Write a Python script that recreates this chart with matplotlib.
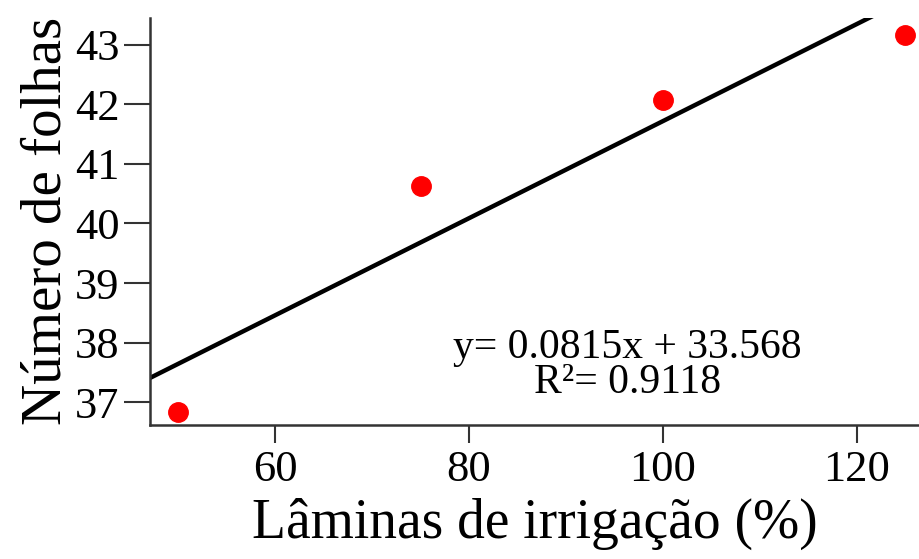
import numpy as np
import matplotlib
matplotlib.use("Agg")
import matplotlib.pyplot as plt

# irrigation levels (%) and number of leaves
laminas = [50, 75, 100, 125]
folhas = [36.83, 40.63, 42.08, 43.17]

# fitted regression
slope = 0.0815
intercept = 33.568
r2 = 0.9118

yticks = [37, 38, 39, 40, 41, 42, 43]
xticks = [60, 80, 100, 120]

plt.rcParams['font.family'] = ['Liberation Serif', 'DejaVu Serif']

fig = plt.figure(figsize=(9.2, 5.59), dpi=100)
ax = fig.add_axes([0.163, 0.24, 0.837, 0.728])

xmin, xmax = 47.1, 126.5
ax.set_xlim(xmin, xmax)
ax.set_ylim(36.62, 43.45)

xfit = np.array([xmin, xmax])
ax.plot(xfit, slope * xfit + intercept, color='black', lw=3.2, zorder=2)
ax.plot(laminas, folhas, 'o', color='#ff0000', ms=14, mec='#ff0000', zorder=3)

# equation and R² of the fit
ax.text(96.3, 37.92, f"y= {slope}x + {intercept}", ha='center', va='center', fontsize=30)
ax.text(96.3, 37.32, f"R²= {r2}", ha='center', va='center', fontsize=30)

ax.set_xticks(xticks)
ax.set_yticks(yticks)
ax.tick_params(axis='y', length=19, width=1.5, pad=3, labelsize=32, color='#333333')
ax.tick_params(axis='x', length=13, width=1.5, pad=5, labelsize=32, color='#333333')

for s in ['top', 'right']:
    ax.spines[s].set_visible(False)
for s in ['left', 'bottom']:
    ax.spines[s].set_linewidth(1.8)
    ax.spines[s].set_color('#333333')

ax.set_xlabel("Lâminas de irrigação (%)", fontsize=40, labelpad=6)
ax.set_ylabel("Número de folhas", fontsize=41, labelpad=2)

fig.savefig("out.png", dpi=100)
